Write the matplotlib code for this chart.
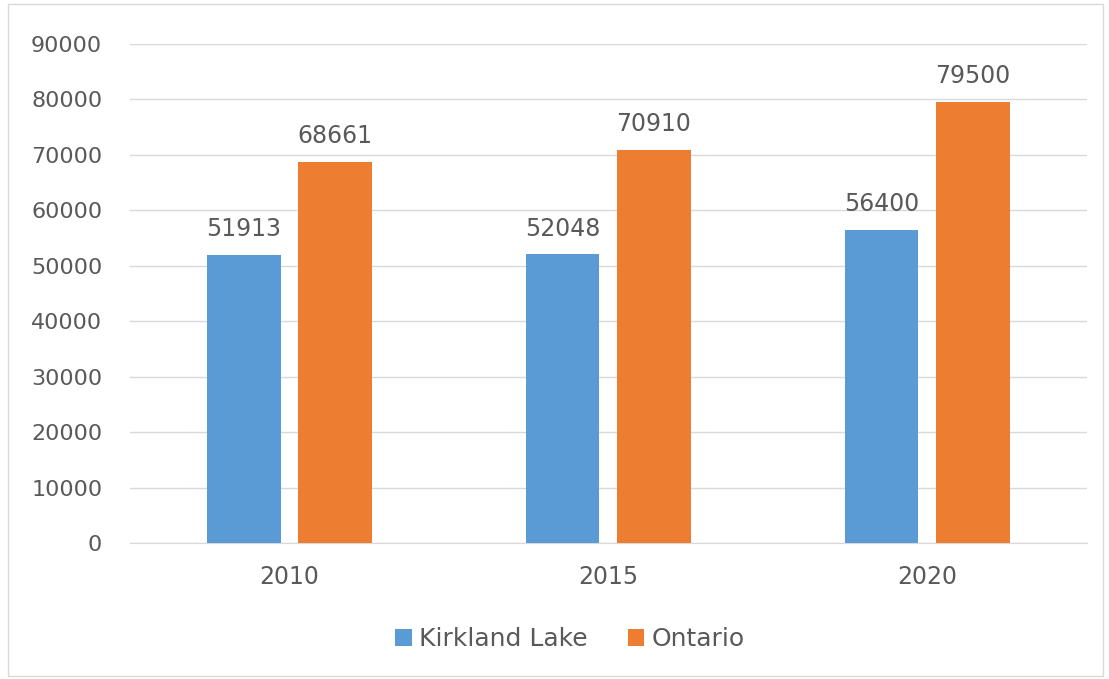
import numpy as np
import matplotlib.pyplot as plt
from matplotlib.patches import Rectangle

# Median household income by year
years = ["2010", "2015", "2020"]
kirkland_lake = [51913, 52048, 56400]
ontario = [68661, 70910, 79500]
series_names = ["Kirkland Lake", "Ontario"]

BLUE = "#5B9BD5"
ORANGE = "#ED7D31"
TEXT = "#595959"
GRID = "#D9D9D9"

plt.rcParams['font.family'] = ['DejaVu Sans']

fig = plt.figure(figsize=(11.09, 6.79), dpi=100)
ax = fig.add_axes([0.1172, 0.2003, 0.8628, 0.7349])

x = np.arange(len(years))
width = 0.23
offset = 0.143

bars1 = ax.bar(x - offset, kirkland_lake, width, color=BLUE, label=series_names[0], zorder=3)
bars2 = ax.bar(x + offset, ontario, width, color=ORANGE, label=series_names[1], zorder=3)

for bars in (bars1, bars2):
    for b in bars:
        ax.annotate(f"{int(b.get_height())}",
                    (b.get_x() + b.get_width() / 2, b.get_height()),
                    xytext=(0, 10), textcoords="offset points",
                    ha="center", va="bottom", fontsize=17, color=TEXT)

ax.set_xlim(-0.5, len(years) - 0.5)
ax.set_ylim(0, 90000)
ax.set_yticks(np.arange(0, 90001, 10000))
ax.set_xticks(x)
ax.set_xticklabels(years)
ax.tick_params(axis="both", length=0, labelsize=16, colors=TEXT)
ax.tick_params(axis="x", labelsize=17, pad=16)
ax.tick_params(axis="y", pad=20)
ax.yaxis.grid(True, color=GRID, linewidth=1, zorder=0)
for side in ("top", "right", "left"):
    ax.spines[side].set_visible(False)
ax.spines["bottom"].set_color(GRID)

fig.legend(loc="center", bbox_to_anchor=(0.514, 0.059), ncol=2, frameon=False,
           fontsize=18, labelcolor=TEXT, handlelength=0.65, handleheight=0.65,
           handletextpad=0.3, columnspacing=1.6)

# light outer frame
fig.patches.append(Rectangle((0.007, 0.004), 0.988, 0.99, transform=fig.transFigure,
                             fill=False, edgecolor="#D9D9D9", linewidth=1))

fig.savefig("out.png", dpi=100)
